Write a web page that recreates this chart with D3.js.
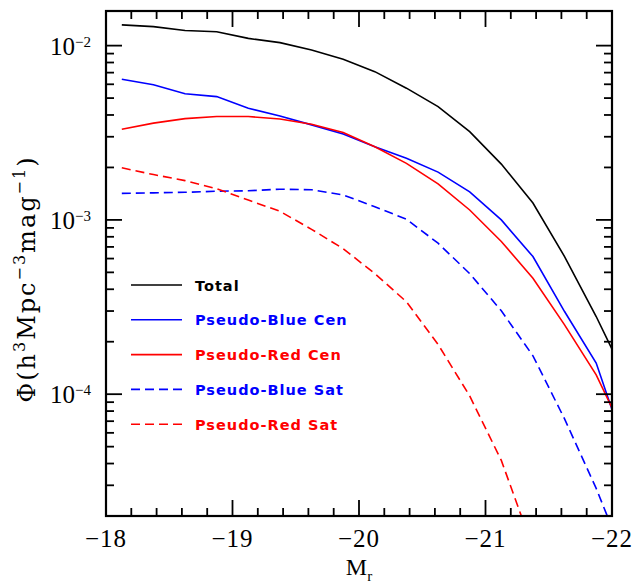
<!DOCTYPE html>
<html>
<head>
<meta charset="utf-8">
<script src="https://cdn.jsdelivr.net/npm/d3@7"></script>
<style>
  body { margin: 0; background: #fff; }
</style>
</head>
<body>
<svg id="chart" width="639" height="583"></svg>
<script>
// magnitude bins (bin centres)
const mags = [-18.125, -18.375, -18.625, -18.875, -19.125, -19.375, -19.625, -19.875,
  -20.125, -20.375, -20.625, -20.875, -21.125, -21.375, -21.625, -21.875, -22.125];

const total = [0.01315, 0.01285, 0.0122, 0.0120, 0.0110, 0.0104, 0.00945, 0.00835,
  0.00709, 0.00570, 0.00447, 0.00321, 0.00209, 0.00125, 0.000616, 0.000279, 0.000118];
const blueCen = [0.00641, 0.00596, 0.00529, 0.00510, 0.00437, 0.00395, 0.00351, 0.00311,
  0.00263, 0.00226, 0.00188, 0.00145, 0.00100, 0.000616, 0.000298, 0.000151, 0.0000443];
const redCen = [0.00331, 0.00359, 0.00381, 0.00392, 0.00392, 0.00379, 0.00354, 0.00317,
  0.00263, 0.00211, 0.00161, 0.00114, 0.000752, 0.000463, 0.000250, 0.000129, 0.0000540];
const blueSat = [0.00142, 0.00143, 0.00144, 0.00146, 0.00147, 0.00150, 0.00149, 0.00139,
  0.00119, 0.00101, 0.000735, 0.000492, 0.000301, 0.000166, 0.0000721, 0.0000288, 0.0000102];
const redSat = [0.00199, 0.00182, 0.00168, 0.00151, 0.00130, 0.00112, 0.000883, 0.000684,
  0.000492, 0.000339, 0.000193, 0.0000977, 0.0000417, 0.0000131, 0.000003];

const seriesNames = ['Total', 'Pseudo-Blue Cen', 'Pseudo-Red Cen', 'Pseudo-Blue Sat', 'Pseudo-Red Sat'];
const seriesColors = ['#000000', '#0000ff', '#ff0000', '#0000ff', '#ff0000'];
const seriesDashed = [false, false, false, true, true];
const seriesValues = [total, blueCen, redCen, blueSat, redSat];

const xMajor = [-18, -19, -20, -21, -22];
const yMajorExp = [-2, -3, -4];

var svg = d3.select('#chart');
var svgWidth = +svg.attr('width');
var svgHeight = +svg.attr('height');
var padding = { t: 11, r: 27, b: 67, l: 106 };
var chartWidth = svgWidth - padding.l - padding.r;
var chartHeight = svgHeight - padding.t - padding.b;

var xScale = d3.scaleLinear().domain([-18, -22]).range([0, chartWidth]);
var yScale = d3.scaleLog().domain([2.0e-5, 0.0158]).range([chartHeight, 0]);

var chartG = svg.append('g')
  .attr('transform', `translate(${padding.l}, ${padding.t})`);

chartG.append('clipPath').attr('id', 'plotClip')
  .append('rect').attr('width', chartWidth).attr('height', chartHeight);

// curves
var line = d3.line()
  .x(d => xScale(d[0]))
  .y(d => yScale(d[1]));

var curvesG = chartG.append('g').attr('clip-path', 'url(#plotClip)');
seriesValues.forEach(function(vals, i) {
  var pts = vals.map((v, j) => [mags[j], v]);
  curvesG.append('path')
    .datum(pts)
    .attr('d', line)
    .attr('fill', 'none')
    .attr('stroke', seriesColors[i])
    .attr('stroke-width', 1.6)
    .attr('stroke-dasharray', seriesDashed[i] ? '9,5' : null);
});

// ticks on all four sides, pointing inwards
var xMinor = d3.range(0, 21).map(i => -18 - i * 0.2);
var yMinor = [];
[-5, -4, -3, -2].forEach(function(e) {
  for (var m = 1; m < 10; m++) {
    var v = m * Math.pow(10, e);
    if (v >= 2.0e-5 && v <= 0.0158) yMinor.push({ v: v, major: m === 1 });
  }
});

var tickG = chartG.append('g').attr('stroke', '#000').attr('stroke-width', 1.8);
xMinor.forEach(function(v) {
  var isMajor = Math.abs(v - Math.round(v)) < 1e-6;
  var len = isMajor ? 16 : 8;
  var x = xScale(v);
  tickG.append('line').attr('x1', x).attr('x2', x).attr('y1', chartHeight).attr('y2', chartHeight - len);
  tickG.append('line').attr('x1', x).attr('x2', x).attr('y1', 0).attr('y2', len);
});
yMinor.forEach(function(d) {
  var len = d.major ? 16 : 8;
  var y = yScale(d.v);
  tickG.append('line').attr('x1', 0).attr('x2', len).attr('y1', y).attr('y2', y);
  tickG.append('line').attr('x1', chartWidth).attr('x2', chartWidth - len).attr('y1', y).attr('y2', y);
});

// frame
chartG.append('rect')
  .attr('width', chartWidth)
  .attr('height', chartHeight)
  .attr('fill', 'none')
  .attr('stroke', '#000')
  .attr('stroke-width', 2.2);

// tick labels
var labelFont = 'Liberation Serif, Times New Roman, serif';
xMajor.forEach(function(v) {
  chartG.append('text')
    .attr('x', xScale(v))
    .attr('y', chartHeight + 31)
    .attr('text-anchor', 'middle')
    .attr('font-family', labelFont)
    .attr('font-size', 25)
    .attr('letter-spacing', 1)
    .text('\u2212' + Math.abs(v));
});

yMajorExp.forEach(function(e) {
  var t = chartG.append('text')
    .attr('x', -15)
    .attr('y', yScale(Math.pow(10, e)) + 9)
    .attr('text-anchor', 'end')
    .attr('font-family', labelFont)
    .attr('font-size', 25);
  t.append('tspan').text('10');
  t.append('tspan').attr('font-size', 15).attr('dy', -8).text('\u2212' + Math.abs(e));
});

// axis titles
var xTitle = svg.append('text')
  .attr('x', padding.l + chartWidth / 2)
  .attr('y', 575)
  .attr('text-anchor', 'middle')
  .attr('font-family', labelFont)
  .attr('font-size', 24);
xTitle.append('tspan').text('M');
xTitle.append('tspan').attr('font-size', 15).attr('dy', 6).text('r');

var yTitle = svg.append('text')
  .attr('transform', 'translate(35, 279) rotate(-90)')
  .attr('text-anchor', 'middle')
  .attr('font-family', 'DejaVu Serif, serif')
  .attr('font-size', 24)
  .attr('letter-spacing', 2);
yTitle.append('tspan').text('\u03a6(h');
yTitle.append('tspan').attr('font-size', 16).attr('dy', -10).text('3');
yTitle.append('tspan').attr('dy', 10).text('Mpc');
yTitle.append('tspan').attr('font-size', 16).attr('dy', -10).text('\u22123');
yTitle.append('tspan').attr('dy', 10).text('mag');
yTitle.append('tspan').attr('font-size', 16).attr('dy', -10).text('\u22121');
yTitle.append('tspan').attr('dy', 10).text(')');

// legend
var legendG = svg.append('g');
seriesNames.forEach(function(name, i) {
  var y = 285 + i * 34.8;
  legendG.append('line')
    .attr('x1', 131).attr('x2', 182)
    .attr('y1', y).attr('y2', y)
    .attr('stroke', seriesColors[i])
    .attr('stroke-width', 1.6)
    .attr('stroke-dasharray', seriesDashed[i] ? '9,5' : null);
  legendG.append('text')
    .attr('x', 195)
    .attr('y', y + 5.5)
    .attr('font-family', 'DejaVu Sans, sans-serif')
    .attr('font-weight', 'bold')
    .attr('font-size', 14.5)
    .attr('letter-spacing', 1)
    .attr('fill', seriesColors[i])
    .text(name);
});
</script>
</body>
</html>
